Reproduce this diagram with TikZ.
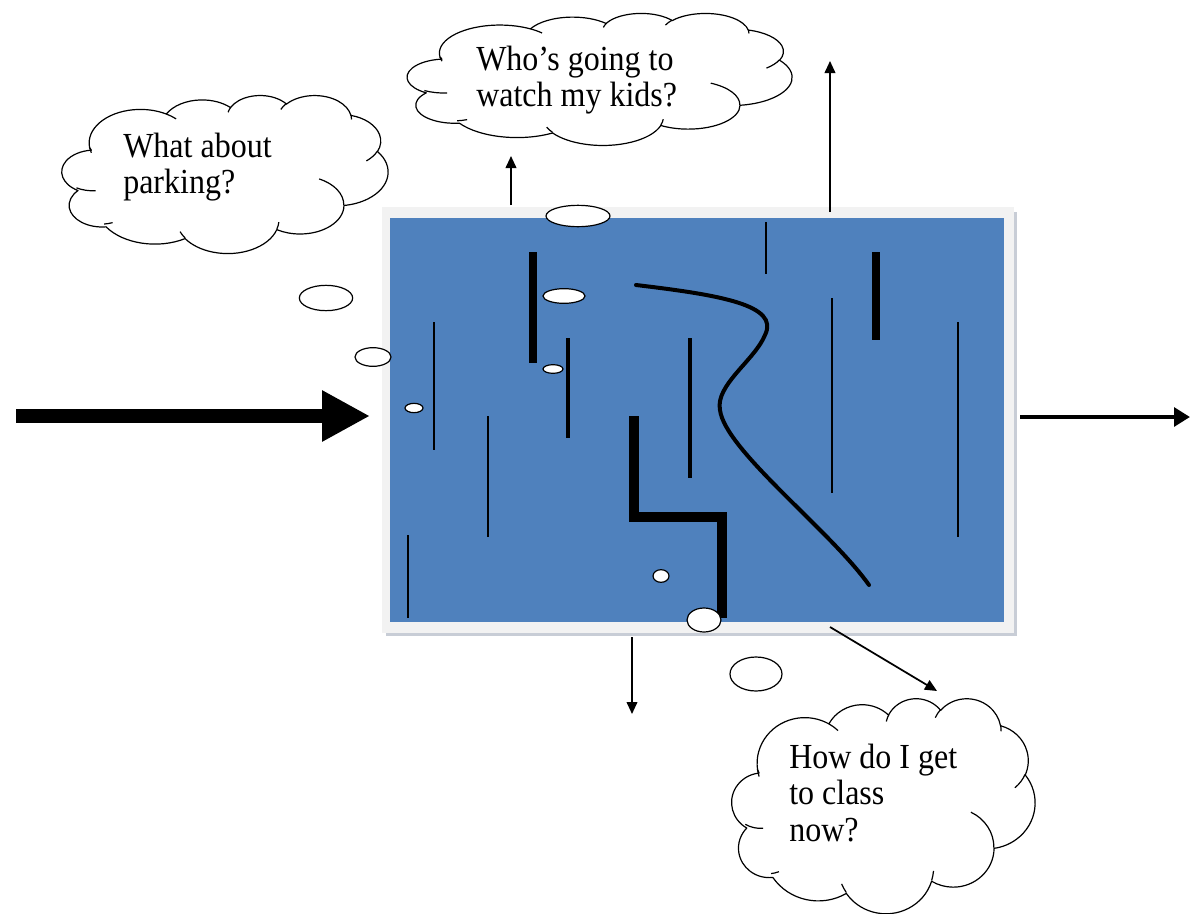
\documentclass[tikz,border=0pt]{standalone}
\usepackage{fontspec}
\usepackage{graphicx}
\setmainfont{Liberation Serif}
\usetikzlibrary{arrows.meta,shapes.geometric}
\definecolor{boxblue}{HTML}{4F81BD}
\definecolor{framegray}{HTML}{F2F2F2}
\definecolor{shadowgray}{HTML}{C8CDD6}
% arc given in DrawingML style: wR, hR, visual start angle, sweep
\newcommand\oarc[4]{arc[start angle={atan2(#1*sin(#3),#2*cos(#3))}, delta angle={mod(atan2(#1*sin(#3+#4),#2*cos(#3+#4))-atan2(#1*sin(#3),#2*cos(#3))+720,360)}, x radius=#1, y radius=#2]}
\newcommand\cloudoutline{(39.00,143.70) \oarc{67.53}{91.90}{-190.4875}{123.7805}
 \oarc{53.33}{72.67}{-144.1024}{89.9452}
 \oarc{43.65}{59.45}{-145.8079}{99.7230}
 \oarc{48.57}{65.95}{-130.9861}{117.2417}
 \oarc{53.33}{72.73}{-78.7089}{109.0269}
 \oarc{67.75}{92.20}{-46.2673}{130.2690}
 \oarc{57.85}{78.67}{0.6250}{114.0333}
 \oarc{67.52}{92.15}{22.4516}{115.1726}
 \oarc{77.20}{105.43}{66.2426}{71.6325}
 \oarc{43.60}{59.18}{-274.9421}{146.7356}
 \oarc{43.45}{59.45}{-246.8285}{152.5189} -- cycle}
\newcommand\cloudinner{(46.93,261.77) \oarc{43.45}{59.45}{86.7420}{26.4295}
 (69.28,348.99) \oarc{43.60}{59.18}{73.6105}{11.4475}
 (164.78,390.90) \oarc{67.52}{92.15}{137.6242}{14.0811}
 (288.27,347.51) \oarc{67.52}{92.15}{6.4533}{15.9984}
 (341.29,229.54) \oarc{57.85}{78.67}{-70.2924}{70.9174}
 (417.98,153.54) \oarc{53.33}{72.73}{30.3180}{27.7515}
 (383.24,54.26) \oarc{48.57}{65.95}{-13.7443}{14.8589}
 (290.78,39.52) \oarc{48.57}{65.95}{-149.1815}{18.1954}
 (221.41,47.20) \oarc{43.65}{59.45}{-163.4943}{17.6864}
 (140.00,51.92) \oarc{67.53}{91.90}{-66.7070}{12.3194}
 (41.27,157.89) \oarc{67.53}{91.90}{157.6544}{11.8582}}
\tikzset{
  thinl/.style={line width=1.2pt},
  medl/.style={line width=2.6pt},
  thickl/.style={line width=6pt},
  bubble/.style={ellipse, draw=black, fill=white, line width=0.9pt, inner sep=0pt},
  cloudline/.style={draw=black, line width=0.9pt, line join=round},
  qtext/.style={inner sep=0pt, anchor=base west, font=\fontsize{24}{25}\selectfont},
  thinarrow/.style={line width=1.3pt, -{Triangle[length=9pt,width=8pt]}},
}
\newcommand\qlines[1]{\scalebox{1}[1.1]{\begin{tabular}[t]{@{}l@{}}#1\end{tabular}}}
\begin{document}
\begin{tikzpicture}[x=0.75pt,y=-0.75pt]
\useasboundingbox (0,0) rectangle (1190,914);
% box with frame and shadow
\fill[shadowgray] (386,212) rectangle (1017,636);
\node[draw=none, fill=framegray, minimum width=474pt, minimum height=319.5pt, inner sep=0pt, anchor=north west] (frame) at (382,207) {};
\node[draw=none, fill=boxblue, minimum width=460.5pt, minimum height=303pt, inner sep=0pt, anchor=north west] (blue) at (390,218) {};
% inner lines
\coordinate (a1) at (766,222); \coordinate (a2) at (766,274);
\draw[thinl] (a1) -- (a2);
\coordinate (b1) at (533,252); \coordinate (b2) at (533,363);
\draw[thickl] (b1) -- (b2);
\coordinate (c1) at (876,252); \coordinate (c2) at (876,340);
\draw[thickl] (c1) -- (c2);
\coordinate (d1) at (434,322); \coordinate (d2) at (434,450);
\draw[thinl] (d1) -- (d2);
\coordinate (e1) at (568,338); \coordinate (e2) at (568,438);
\draw[medl] (e1) -- (e2);
\coordinate (f1) at (488,416); \coordinate (f2) at (488,537);
\draw[thinl] (f1) -- (f2);
\coordinate (g1) at (408,535); \coordinate (g2) at (408,618);
\draw[thinl] (g1) -- (g2);
\coordinate (h1) at (690,338); \coordinate (h2) at (690,478);
\draw[medl] (h1) -- (h2);
\coordinate (i1) at (832,298); \coordinate (i2) at (832,493);
\draw[thinl] (i1) -- (i2);
\coordinate (j1) at (958,322); \coordinate (j2) at (958,537);
\draw[thinl] (j1) -- (j2);
% L shape
\coordinate (L1) at (634,416); \coordinate (L2) at (634,517);
\coordinate (L3) at (722,517); \coordinate (L4) at (722,618);
\draw[line width=7pt, line join=miter] (L1) -- (L2) -- (L3) -- (L4);
% S curve
\coordinate (s0) at (636,285); \coordinate (s1) at (765,335);
\coordinate (s2) at (720,410); \coordinate (s3) at (869,585);
\draw[line width=3pt, line cap=round] (s0) .. controls (720,295) and (780,305) .. (s1)
  .. controls (755,360) and (715,385) .. (s2)
  .. controls (725,450) and (830,530) .. (s3);
% bubbles
\node[bubble, minimum width=48pt, minimum height=16pt] (o1) at (578,216) {};
\node[bubble, minimum width=31.5pt, minimum height=11pt] (o2) at (564,296) {};
\node[bubble, minimum width=15pt, minimum height=6.5pt] (o3) at (553,369) {};
\node[bubble, minimum width=13.5pt, minimum height=7pt] (o4) at (414,408) {};
\node[bubble, minimum width=27pt, minimum height=14pt] (o5) at (373,357) {};
\node[bubble, minimum width=40pt, minimum height=19pt] (o6) at (326,298) {};
\node[bubble, minimum width=12pt, minimum height=9.5pt] (o7) at (661,576) {};
\node[bubble, minimum width=25.5pt, minimum height=18pt] (o8) at (704,620) {};
\node[bubble, minimum width=39pt, minimum height=25.5pt] (o9) at (756,674) {};
% clouds
\begin{scope}[shift={(60,95)}, xscale=328/432, yscale=158/432]
  \draw[cloudline, fill=white] \cloudoutline;
  \draw[cloudline] \cloudinner;
\end{scope}
\begin{scope}[shift={(405,13)}, xscale=387/432, yscale=132/432]
  \draw[cloudline, fill=white] \cloudoutline;
  \draw[cloudline] \cloudinner;
\end{scope}
\begin{scope}[shift={(730,698)}, xscale=305/432, yscale=215/432]
  \draw[cloudline, fill=white] \cloudoutline;
  \draw[cloudline] \cloudinner;
\end{scope}
\node[qtext] (t1) at (123,157) {\qlines{What about\\parking?}};
\node[qtext] (t2) at (476,70) {\qlines{Who’s going to\\watch my kids?}};
\node[qtext] (t3) at (789,768) {\qlines{How do I get\\to class\\now?}};
% arrows
\coordinate (in0) at (16,416); \coordinate (in1) at (370,416);
\draw[line width=11pt, -{Triangle[length=36pt,width=36pt]}] (in0) -- (in1);
\coordinate (out0) at (1020,417); \coordinate (out1) at (1190,417);
\draw[line width=3pt, -{Triangle[length=12pt,width=14pt]}] (out0) -- (out1);
\coordinate (u1a) at (511,205); \coordinate (u1b) at (511,156);
\draw[thinarrow] (u1a) -- (u1b);
\coordinate (u2a) at (830,212); \coordinate (u2b) at (830,61);
\draw[thinarrow] (u2a) -- (u2b);
\coordinate (d0a) at (632,637); \coordinate (d0b) at (632,714);
\draw[thinarrow] (d0a) -- (d0b);
\coordinate (r0a) at (830,627); \coordinate (r0b) at (937,691);
\draw[thinarrow] (r0a) -- (r0b);
\end{tikzpicture}
\end{document}
